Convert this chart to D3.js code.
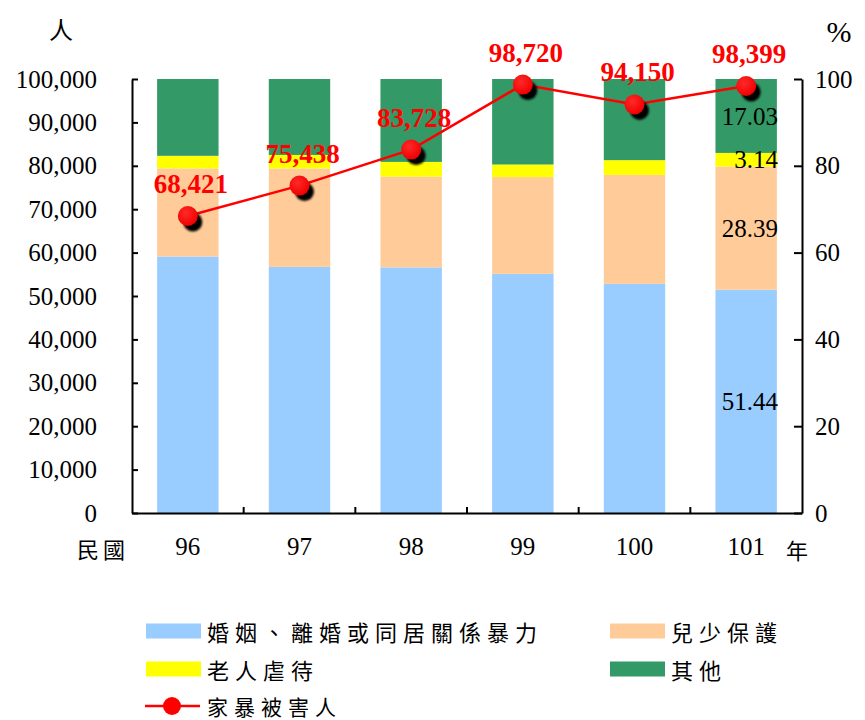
<!DOCTYPE html>
<html>
<head>
<meta charset="utf-8">
<script src="https://cdn.jsdelivr.net/npm/d3@7"></script>
<style>
  html, body { margin: 0; padding: 0; background: #fff; }
  svg { display: block; }
  .num { font-family: "Liberation Serif", "DejaVu Serif", serif; }
  .cjk { font-family: "Noto Sans CJK TC", "Noto Sans CJK SC", sans-serif; }
</style>
</head>
<body>
<svg id="chart" width="865" height="720"></svg>
<script>
// ---- data ----
const years = ["96", "97", "98", "99", "100", "101"];
const marital = [59.1, 56.7, 56.6, 55.1, 52.8, 51.44];   // 婚姻、離婚或同居關係暴力 (%)
const child   = [20.3, 22.7, 20.9, 22.3, 25.1, 28.39];   // 兒少保護 (%)
const elder   = [2.9, 3.1, 3.4, 2.9, 3.4, 3.14];         // 老人虐待 (%)
const other   = [17.7, 17.5, 19.1, 19.7, 18.7, 17.03];   // 其他 (%)
const victims = [68421, 75438, 83728, 98720, 94150, 98399]; // 家暴被害人 (人)
const leftTicks = [0, 10000, 20000, 30000, 40000, 50000, 60000, 70000, 80000, 90000, 100000];
const rightTicks = [0, 20, 40, 60, 80, 100];
const seriesNames = ["婚姻、離婚或同居關係暴力", "兒少保護", "老人虐待", "其他"];
const seriesKeys = ["marital", "child", "elder", "other"];
const labelledYear = "101";

const colors = { marital: "#99CCFF", child: "#FFCC99", elder: "#FFFF00", other: "#339966" };
const RED = "#FF0000";

const table = years.map((y, i) => ({ year: y, marital: marital[i], child: child[i], elder: elder[i], other: other[i], victims: victims[i] }));

const svg = d3.select("#chart");
const L = 132, R = 802, T = 79, B = 513;

const x = d3.scaleBand().domain(years).range([L, R]).paddingInner(0.45).paddingOuter(0.225);
const yL = d3.scaleLinear().domain([0, 100000]).range([B, T]);
const yR = d3.scaleLinear().domain([0, 100]).range([B, T]);

// ---- stacked bars ----
const stack = d3.stack().keys(seriesKeys)(table);
const gBars = svg.append("g");
stack.forEach(layer => {
  gBars.selectAll(null).data(layer).join("rect")
    .attr("x", d => x(d.data.year))
    .attr("width", x.bandwidth())
    .attr("y", d => yR(d[1]))
    .attr("height", d => yR(d[0]) - yR(d[1]))
    .attr("fill", colors[layer.key]);
});

// value labels in last bar
stack.forEach(layer => {
  const d = layer.find(v => v.data.year === labelledYear);
  gBars.append("text").attr("class", "num")
    .attr("x", x(labelledYear) + x.bandwidth() + 1)
    .attr("y", yR((d[0] + d[1]) / 2))
    .attr("dy", "0.35em")
    .attr("text-anchor", "end")
    .style("font-size", "25px")
    .attr("fill", "#000")
    .text(d3.format(".2f")(d.data[layer.key]));
});

// ---- axes ----
const axL = svg.append("g").attr("transform", `translate(${L},0)`)
  .call(d3.axisLeft(yL).tickValues(leftTicks).tickSizeInner(-6).tickSizeOuter(0).tickPadding(35).tickFormat(d3.format(",")));
const axR = svg.append("g").attr("transform", `translate(${R},0)`)
  .call(d3.axisRight(yR).tickValues(rightTicks).tickSizeInner(-8).tickSizeOuter(0).tickPadding(13));
[axL, axR].forEach(a => {
  a.attr("font-family", null);
  a.selectAll("path, line").attr("stroke", "#000").attr("stroke-width", 2);
  a.selectAll("text").attr("class", "num").style("font-size", "25px").attr("fill", "#000");
});

const axB = svg.append("g").attr("transform", `translate(0,${B})`)
  .call(d3.axisBottom(x).tickSize(0).tickPadding(24));
axB.attr("font-family", null);
axB.select("path").attr("stroke", "#000").attr("stroke-width", 2);
axB.selectAll("text").attr("class", "num").style("font-size", "25px").attr("fill", "#000");
// category boundary ticks (pointing up)
const step = x.step();
const bounds = years.slice(1).map(y => x(y) - (step - x.bandwidth()) / 2);
svg.append("g").selectAll("line").data(bounds).join("line")
  .attr("x1", d => d).attr("x2", d => d)
  .attr("y1", B).attr("y2", B - 6)
  .attr("stroke", "#000").attr("stroke-width", 2);

// axis titles
svg.append("text").attr("class", "cjk").attr("x", 61).attr("y", 28).attr("text-anchor", "middle").attr("dominant-baseline", "central")
  .style("font-size", "24px").text("人");
svg.append("text").attr("class", "num").attr("x", 839).attr("y", 31).attr("text-anchor", "middle").attr("dominant-baseline", "central")
  .style("font-size", "30px").text("%");
svg.append("text").attr("class", "cjk").attr("x", 103).attr("y", 548).attr("text-anchor", "middle").attr("dominant-baseline", "central")
  .style("font-size", "22px").attr("letter-spacing", 4).text("民國");
svg.append("text").attr("class", "cjk").attr("x", 797).attr("y", 549).attr("text-anchor", "middle").attr("dominant-baseline", "central")
  .style("font-size", "22px").text("年");

// ---- line ----
const defs = svg.append("defs");
defs.append("filter").attr("id", "blur").attr("x", "-50%").attr("y", "-50%").attr("width", "200%").attr("height", "200%")
  .append("feGaussianBlur").attr("stdDeviation", 1.3);
const grad = defs.append("radialGradient").attr("id", "dot").attr("cx", "40%").attr("cy", "35%").attr("r", "65%");
grad.append("stop").attr("offset", "0%").attr("stop-color", "#ff2a2a");
grad.append("stop").attr("offset", "100%").attr("stop-color", "#f00000");

const cx = d => x(d.year) + x.bandwidth() / 2;
const line = d3.line().x(cx).y(d => yL(d.victims));
const gLine = svg.append("g");
gLine.append("path").datum(table).attr("d", line).attr("fill", "none").attr("stroke", RED).attr("stroke-width", 2.5);
gLine.selectAll(".sh").data(table).join("circle").attr("class", "sh")
  .attr("cx", d => cx(d) + 5).attr("cy", d => yL(d.victims) + 6).attr("r", 9.5)
  .attr("fill", "#000").attr("filter", "url(#blur)");
gLine.selectAll(".pt").data(table).join("circle").attr("class", "pt")
  .attr("cx", cx).attr("cy", d => yL(d.victims)).attr("r", 10)
  .attr("fill", "url(#dot)");
gLine.selectAll(".lb").data(table).join("text").attr("class", "num")
  .attr("x", d => cx(d) + 3).attr("y", d => yL(d.victims) - 23)
  .attr("text-anchor", "middle")
  .style("font-weight", "bold").style("font-size", "27px")
  .attr("fill", RED)
  .text(d => d3.format(",")(d.victims));

// ---- legend ----
const legendItems = [
  { key: "marital", name: seriesNames[0], sx: 146, row: 631 },
  { key: "child", name: seriesNames[1], sx: 610, row: 631 },
  { key: "elder", name: seriesNames[2], sx: 146, row: 669 },
  { key: "other", name: seriesNames[3], sx: 610, row: 669 }
];
const gLeg = svg.append("g");
legendItems.forEach(it => {
  gLeg.append("rect").attr("x", it.sx).attr("y", it.row - 7.5).attr("width", 55).attr("height", 15).attr("fill", colors[it.key]);
  gLeg.append("text").attr("class", "cjk").attr("x", it.sx + 61).attr("y", it.row).attr("dominant-baseline", "central")
    .style("font-size", "22px").attr("letter-spacing", 6).text(it.name);
});
gLeg.append("line").attr("x1", 145).attr("x2", 200).attr("y1", 706).attr("y2", 706).attr("stroke", RED).attr("stroke-width", 2.5);
gLeg.append("circle").attr("cx", 172).attr("cy", 706).attr("r", 9).attr("fill", RED);
gLeg.append("text").attr("class", "cjk").attr("x", 207).attr("y", 706).attr("dominant-baseline", "central")
  .style("font-size", "21px").attr("letter-spacing", 6).text("家暴被害人");
</script>
</body>
</html>
